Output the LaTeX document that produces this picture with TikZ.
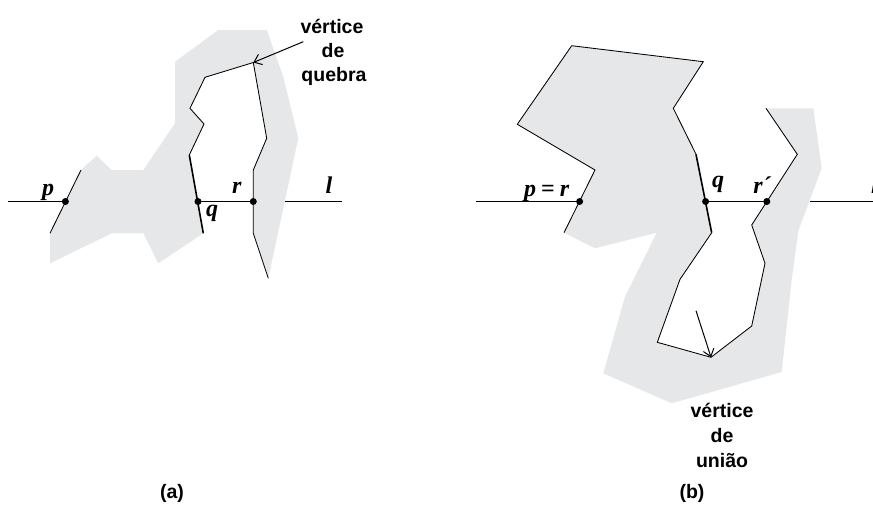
\documentclass[tikz,border=0pt]{standalone}
\usepackage{fontspec}
\setmainfont{Liberation Sans}
\newfontfamily\lblfont{Liberation Serif}
\usetikzlibrary{arrows.meta}
\definecolor{regiongray}{RGB}{230,231,232}
\begin{document}
\begin{tikzpicture}[x=1pt,y=-1pt,
  thinline/.style={line width=0.85pt, line join=miter},
  thickline/.style={line width=1.6pt},
  axisline/.style={line width=1.3pt},
  dotpt/.style={circle, fill=black, inner sep=0pt, minimum size=7pt},
  lbl/.style={font=\lblfont\bfseries\itshape\fontsize{24}{24}\selectfont, inner sep=0pt, anchor=base},
  txt/.style={font=\bfseries\fontsize{19.5}{24}\selectfont, inner sep=0pt, anchor=base},
  callout/.style={line width=1pt, -{Straight Barb[length=7pt,width=11pt]}}
]
\useasboundingbox (0,0) rectangle (873,504);

% ---------------- (a) ----------------
\coordinate (qa0) at (203.3,233.3);
\coordinate (qa2) at (189.3,155);
\coordinate (qa3) at (204,124);
\coordinate (qa4) at (190,108.3);
\coordinate (qa5) at (205,77.3);
\coordinate (brk) at (253.3,62.5);
\coordinate (ra1) at (266.7,138.3);
\coordinate (ra2) at (253.3,170);
\coordinate (ra3) at (253.3,233.3);
\coordinate (ra4) at (268.3,278.3);
\coordinate (pa0) at (50,233.3);
\coordinate (pa1) at (81,170);

\fill[regiongray] (qa0) -- (158.3,263.3) -- (143.3,233.3) -- (111.7,233.3) -- (50,263.3)
  -- (pa0) -- (pa1) -- (96.7,155.7) -- (111.7,170) -- (143.3,170) -- (175,123.3)
  -- (175,61.7) -- (218.3,30) -- (266.7,30) -- (283.3,76.7) -- (298.3,138.3)
  -- (ra4) -- (ra3) -- (ra2) -- (ra1) -- (brk) -- (qa5) -- (qa4) -- (qa3) -- (qa2) -- cycle;

\node[dotpt] (pA) at (65.4,201.5) {};
\node[dotpt] (qA) at (198,201.5) {};
\node[dotpt] (rA) at (253.3,201.5) {};
\coordinate (la0) at (8,201.5);
\coordinate (la1) at (285,201.5);
\coordinate (la2) at (342,201.5);

\draw[thinline] (pa0) -- (pa1);
\draw[thickline] (qa0) -- (qa2);
\draw[thinline] (qa2) -- (qa3) -- (qa4) -- (qa5) -- (brk) -- (ra1) -- (ra2) -- (ra3) -- (ra4);
\draw[axisline] (la0) -- (pA.center);
\draw[axisline] (qA.center) -- (rA.center);
\draw[axisline] (la1) -- (la2);

\node[lbl] (labp) at (48,195) {p};
\node[lbl] (labr) at (236.7,193.3) {r};
\node[lbl] (labq) at (212,216.5) {q};
\node[lbl] (labl) at (329,193.3) {l};

\node[txt] (qt1) at (332,33) {vértice};
\node[txt] (qt2) at (333,57) {de};
\node[txt] (qt3) at (334,81) {quebra};
\coordinate (qarrow) at (303.3,41.7);
\draw[callout] (qarrow) -- (brk);

\node[txt] (capa) at (172,498) {(a)};

% ---------------- (b) ----------------
\coordinate (t1) at (517.3,124.3);
\coordinate (t2) at (571.7,45.7);
\coordinate (t3) at (703.3,61.7);
\coordinate (t4) at (673.3,108.3);
\coordinate (t5) at (696,154.3);
\coordinate (t6) at (711.7,232.7);
\coordinate (t7) at (680,279.3);
\coordinate (t8) at (657.3,342.3);
\coordinate (join) at (711,357.3);
\coordinate (t9) at (751.7,326);
\coordinate (t10) at (765,263.3);
\coordinate (t11) at (751.7,225);
\coordinate (t12) at (797.3,154.3);
\coordinate (t13) at (766,108.3);
\coordinate (pb0) at (595,170);
\coordinate (pb1) at (564,232.7);

\fill[regiongray] (t2) -- (t3) -- (t4) -- (t5) -- (t6) -- (t7) -- (t8) -- (join) -- (t9)
  -- (t10) -- (t11) -- (t12) -- (t13) -- (813.3,108.3) -- (821.7,168) -- (798.3,231)
  -- (791.7,280) -- (781.7,372) -- (671.7,403.3) -- (603.3,373.3) -- (625,296.7)
  -- (656.7,232.7) -- (595,248.3) -- (pb1) -- (pb0) -- (t1) -- cycle;

\node[dotpt] (prB) at (579.6,201.5) {};
\node[dotpt] (qB) at (705.6,201.5) {};
\node[dotpt] (rB) at (766.8,201.5) {};
\coordinate (lb0) at (476,201.5);
\coordinate (lb1) at (810,201.5);
\coordinate (lb2) at (873,201.5);

\draw[thinline] (pb1) -- (pb0) -- (t1) -- (t2) -- (t3) -- (t4) -- (t5);
\draw[thickline] (t5) -- (t6);
\draw[thinline] (t6) -- (t7) -- (t8) -- (join) -- (t9) -- (t10) -- (t11) -- (t12) -- (t13);
\draw[axisline] (lb0) -- (prB.center);
\draw[axisline] (qB.center) -- (rB.center);
\draw[axisline] (lb1) -- (lb2);

\node[lbl] (labpr) at (546.7,196) {p\hspace{5pt}{\normalfont\lblfont\bfseries =}\hspace{5pt}r};
\node[lbl] (labqb) at (718,187) {q};
\node[lbl] (labrb) at (762,193) {r´};
\node[lbl, anchor=base west] (lablb) at (871,193) {l};

\node[txt] (ut1) at (722,417) {vértice};
\node[txt] (ut2) at (722,442) {de};
\node[txt] (ut3) at (722,467) {união};
\coordinate (uarrow) at (696,310.7);
\draw[callout] (uarrow) -- (join);

\node[txt] (capb) at (692,498) {(b)};
\end{tikzpicture}
\end{document}
